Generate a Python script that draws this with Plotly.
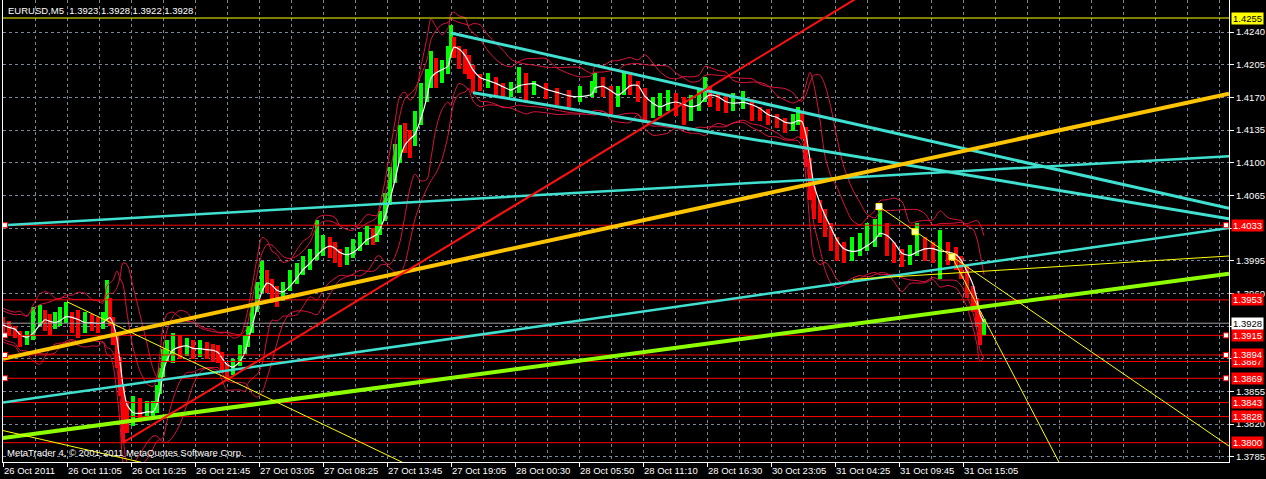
import numpy as np
import plotly.graph_objects as go

# ---------------- data ----------------
bar_index = [
    0, 6, 12, 17, 24, 30, 37, 42, 47, 52,
    57, 63, 69, 75, 82, 89, 95, 100, 104, 107,
    110, 114, 117, 120, 124, 130, 137, 144, 150, 154,
    157, 160, 164, 170, 177, 184, 190, 197, 204, 210,
    215, 219, 224, 230, 237, 242, 245, 249, 254, 259,
    264, 269, 274, 280, 287, 294, 300, 307, 314, 320,
    327, 332, 337, 344, 350, 357, 364, 370, 374, 377,
    382, 387, 392, 397, 402, 407, 412, 418, 424, 428,
    433, 439, 445, 448, 451, 456, 462, 466, 470, 477,
    485, 493, 500, 508, 516, 523, 531, 543, 554, 566,
    577, 589, 592, 600, 608, 615, 621, 627, 635, 642,
    650, 657, 665, 673, 681, 688, 696, 702, 707, 715,
    723, 730, 740, 749, 757, 765, 774, 782, 790, 795,
    799, 803, 807, 811, 817, 822, 828, 834, 841, 849,
    857, 864, 872, 877, 884, 891, 899, 907, 914, 922,
    930, 937, 945, 953, 958, 964, 970, 974, 977, 981,
]

first_open = 1.3930

close = [
    1.3926, 1.3921, 1.3918, 1.3908, 1.3913, 1.3931, 1.3935, 1.3929, 1.3926, 1.3931,
    1.3935, 1.3939, 1.3929, 1.3928, 1.3929, 1.3928, 1.3926, 1.3931, 1.3940, 1.3931,
    1.3913, 1.3889, 1.3860, 1.3835, 1.3827, 1.3835, 1.3832, 1.3832, 1.3835, 1.3856,
    1.3875, 1.3892, 1.3899, 1.3907, 1.3902, 1.3902, 1.3899, 1.3901, 1.3899, 1.3897,
    1.3894, 1.3881, 1.3876, 1.3886, 1.3899, 1.3907, 1.3921, 1.3945, 1.3967, 1.3974,
    1.3972, 1.3960, 1.3958, 1.3967, 1.3978, 1.3985, 1.3993, 1.3999, 1.4010, 1.4012,
    1.4010, 1.4003, 1.3998, 1.4003, 1.4010, 1.4017, 1.4025, 1.4020, 1.4025, 1.4042,
    1.4060, 1.4081, 1.4103, 1.4130, 1.4124, 1.4122, 1.4146, 1.4175, 1.4189, 1.4208,
    1.4192, 1.4199, 1.4219, 1.4231, 1.4221, 1.4213, 1.4210, 1.4199, 1.4189, 1.4186,
    1.4189, 1.4180, 1.4175, 1.4178, 1.4194, 1.4180, 1.4180, 1.4176, 1.4170, 1.4169,
    1.4173, 1.4178, 1.4189, 1.4178, 1.4164, 1.4175, 1.4191, 1.4181, 1.4176, 1.4156,
    1.4159, 1.4164, 1.4167, 1.4164, 1.4156, 1.4160, 1.4170, 1.4178, 1.4170, 1.4164,
    1.4162, 1.4165, 1.4167, 1.4154, 1.4153, 1.4148, 1.4144, 1.4138, 1.4146, 1.4151,
    1.4135, 1.4103, 1.4071, 1.4053, 1.4046, 1.4031, 1.4014, 1.4006, 1.4003, 1.4006,
    1.4010, 1.4017, 1.4025, 1.4031, 1.4010, 1.4003, 1.3996, 1.4003, 1.4014, 1.4006,
    1.4004, 1.4006, 1.4003, 1.3996, 1.3988, 1.3967, 1.3953, 1.3939, 1.3921, 1.3928,
]

high = [
    1.3935, 1.3930, 1.3925, 1.3920, 1.3920, 1.3945, 1.3948, 1.3942, 1.3938, 1.3940,
    1.3945, 1.3951, 1.3940, 1.3942, 1.3940, 1.3938, 1.3935, 1.3940, 1.3974, 1.3955,
    1.3935, 1.3915, 1.3892, 1.3862, 1.3845, 1.3850, 1.3848, 1.3845, 1.3845, 1.3862,
    1.3880, 1.3900, 1.3910, 1.3918, 1.3915, 1.3912, 1.3910, 1.3910, 1.3908, 1.3906,
    1.3905, 1.3897, 1.3885, 1.3890, 1.3905, 1.3915, 1.3925, 1.3950, 1.3972, 1.3995,
    1.3985, 1.3975, 1.3968, 1.3972, 1.3985, 1.3992, 1.4000, 1.4008, 1.4039, 1.4022,
    1.4020, 1.4015, 1.4008, 1.4010, 1.4018, 1.4026, 1.4032, 1.4030, 1.4032, 1.4048,
    1.4068, 1.4095, 1.4120, 1.4140, 1.4142, 1.4135, 1.4155, 1.4185, 1.4200, 1.4220,
    1.4212, 1.4210, 1.4225, 1.4247, 1.4235, 1.4225, 1.4222, 1.4215, 1.4205, 1.4195,
    1.4196, 1.4192, 1.4185, 1.4186, 1.4203, 1.4196, 1.4188, 1.4185, 1.4180, 1.4178,
    1.4182, 1.4188, 1.4196, 1.4192, 1.4182, 1.4182, 1.4198, 1.4195, 1.4188, 1.4180,
    1.4170, 1.4175, 1.4178, 1.4175, 1.4170, 1.4172, 1.4180, 1.4192, 1.4182, 1.4175,
    1.4172, 1.4175, 1.4177, 1.4168, 1.4160, 1.4158, 1.4152, 1.4148, 1.4152, 1.4160,
    1.4155, 1.4138, 1.4105, 1.4075, 1.4060, 1.4050, 1.4035, 1.4020, 1.4015, 1.4020,
    1.4025, 1.4035, 1.4040, 1.4053, 1.4035, 1.4015, 1.4008, 1.4012, 1.4035, 1.4020,
    1.4015, 1.4028, 1.4015, 1.4010, 1.4000, 1.3990, 1.3968, 1.3955, 1.3940, 1.3932,
]

low = [
    1.3918, 1.3915, 1.3912, 1.3903, 1.3905, 1.3910, 1.3925, 1.3920, 1.3915, 1.3922,
    1.3925, 1.3928, 1.3918, 1.3912, 1.3918, 1.3920, 1.3917, 1.3922, 1.3930, 1.3925,
    1.3905, 1.3880, 1.3850, 1.3800, 1.3810, 1.3818, 1.3822, 1.3825, 1.3826, 1.3832,
    1.3852, 1.3870, 1.3888, 1.3885, 1.3890, 1.3893, 1.3890, 1.3892, 1.3890, 1.3888,
    1.3885, 1.3875, 1.3866, 1.3872, 1.3882, 1.3895, 1.3903, 1.3918, 1.3940, 1.3960,
    1.3960, 1.3950, 1.3945, 1.3952, 1.3962, 1.3970, 1.3980, 1.3985, 1.3996, 1.4000,
    1.3998, 1.3993, 1.3988, 1.3990, 1.3998, 1.4005, 1.4012, 1.4012, 1.4015, 1.4022,
    1.4038, 1.4055, 1.4078, 1.4100, 1.4110, 1.4105, 1.4118, 1.4140, 1.4165, 1.4180,
    1.4180, 1.4185, 1.4195, 1.4212, 1.4212, 1.4200, 1.4195, 1.4190, 1.4175, 1.4177,
    1.4180, 1.4172, 1.4168, 1.4170, 1.4175, 1.4165, 1.4172, 1.4168, 1.4162, 1.4160,
    1.4165, 1.4170, 1.4175, 1.4170, 1.4152, 1.4160, 1.4172, 1.4172, 1.4165, 1.4145,
    1.4148, 1.4150, 1.4155, 1.4150, 1.4140, 1.4145, 1.4155, 1.4165, 1.4160, 1.4155,
    1.4153, 1.4155, 1.4158, 1.4145, 1.4145, 1.4140, 1.4137, 1.4132, 1.4134, 1.4140,
    1.4125, 1.4095, 1.4060, 1.4040, 1.4035, 1.4020, 1.4005, 1.3995, 1.3992, 1.3995,
    1.4000, 1.4005, 1.4010, 1.4020, 1.4000, 1.3992, 1.3988, 1.3990, 1.4000, 1.3995,
    1.3992, 1.3975, 1.3990, 1.3985, 1.3975, 1.3955, 1.3940, 1.3925, 1.3905, 1.3915,
]

time_labels = [
    "26 Oct 2011", "26 Oct 11:05", "26 Oct 16:25", "26 Oct 21:45",
    "27 Oct 03:05", "27 Oct 08:25", "27 Oct 13:45", "27 Oct 19:05",
    "28 Oct 00:30", "28 Oct 05:50", "28 Oct 11:10", "28 Oct 16:30",
    "30 Oct 23:05", "31 Oct 04:25", "31 Oct 09:45", "31 Oct 15:05",
]
price_ticks = [1.3785, 1.3820, 1.3855, 1.3890, 1.3925, 1.3960, 1.3995,
               1.4030, 1.4065, 1.4100, 1.4135, 1.4170, 1.4205, 1.4240]
hidden_ticks = [1.3890, 1.3925, 1.4030]   # covered by level boxes in the original

red_levels = [1.4033, 1.3953, 1.3915, 1.3887, 1.3894, 1.3869, 1.3843, 1.3828, 1.3800]
marked_levels = [1.4033, 1.3915, 1.3894, 1.3869]
yellow_level = 1.4255
bid_level = 1.3928
title_text = "EURUSD,M5  1.3923 1.3928 1.3922 1.3928"
copyright_text = "MetaTrader 4, \u00a9 2001-2011 MetaQuotes Software Corp."

# trend-line anchors: (bar, price)
red_ray = [(120, 1.3800), (818, 1.4253)]
gold_line = [(0, 1.3890), (1226, 1.4174)]
green_line = [(0, 1.3805), (1226, 1.3981)]
cyan_flat = [(0, 1.4033), (1226, 1.4107)]
cyan_rising = [(0, 1.3843), (1226, 1.4030)]
cyan_chan_top = [(448, 1.4239), (1226, 1.4051)]
cyan_chan_bottom = [(470, 1.4175), (1226, 1.4040)]
yellow_a = [(64, 1.3951), (374, 1.3792)]
yellow_b = [(0, 1.3813), (134, 1.3780)]
yellow_c = [(876, 1.4053), (1202, 1.3814)]
yellow_d = [(949, 1.3999), (1039, 1.3814)]
yellow_e = [(850, 1.3975), (1226, 1.4000)]
swing_points = [(876, 1.4053), (912, 1.4026), (949, 1.3999)]

# ---------------- derived ----------------
n = len(close)
assert len(bar_index) == n and len(high) == n and len(low) == n
opens = [first_open] + close[:-1]
hi = [max(h, o, c) for h, o, c in zip(high, opens, close)]
lo = [min(l, o, c) for l, o, c in zip(low, opens, close)]
up_bar = [c >= o for o, c in zip(opens, close)]

X_END = 1226
Y_MIN, Y_MAX = 1.37793, 1.42743


def ray(a, b, x_end=1400):
    (x1, p1), (x2, p2) = a, b
    s = (p2 - p1) / (x2 - x1)
    return [x1, x_end], [p1, p1 + s * (x_end - x1)]


def bands(win, k):
    up, dn = [], []
    for i in range(n):
        j = max(0, i - win + 1)
        pool = hi[j:i + 1] + lo[j:i + 1] + close[j:i + 1]
        m = float(np.mean(close[j:i + 1]))
        sd = float(np.std(pool))
        up.append(m + k * sd)
        dn.append(m - k * sd)
    return up, dn


ma = [float(np.mean(close[max(0, i - 2):i + 1])) for i in range(n)]

fig = go.Figure()

# price bars (high-low ranges), green = up bar, red = down bar
for flag, col in [(True, "#00FF00"), (False, "#FF0000")]:
    idx = [i for i in range(n) if up_bar[i] == flag]
    fig.add_trace(go.Bar(
        x=[bar_index[i] for i in idx], base=[lo[i] for i in idx],
        y=[hi[i] - lo[i] for i in idx], width=3.5,
        marker=dict(color=col, line=dict(width=0)), hoverinfo="skip", showlegend=False))

for win, k in [(4, 2.6), (7, 2.2)]:
    up, dn = bands(win, k)
    for series in (up, dn):
        fig.add_trace(go.Scatter(x=bar_index, y=series, mode="lines",
                                 line=dict(color="#DC143C", width=1, shape="spline", smoothing=0.8),
                                 hoverinfo="skip", showlegend=False))

fig.add_trace(go.Scatter(x=bar_index, y=ma, mode="lines",
                         line=dict(color="white", width=1.2, shape="spline", smoothing=0.6),
                         hoverinfo="skip", showlegend=False))


def add_line(xs, ys, color, width):
    fig.add_trace(go.Scatter(x=xs, y=ys, mode="lines", line=dict(color=color, width=width),
                             hoverinfo="skip", showlegend=False))


# horizontal levels
add_line([0, X_END], [yellow_level] * 2, "#FFFF00", 1)
add_line([0, X_END], [bid_level] * 2, "#A0A0A0", 1)
for lv in red_levels:
    add_line([0, X_END], [lv] * 2, "#FF0000", 1)

# trend lines
for seg, col, w in [(cyan_flat, "#40E0D0", 2.5), (cyan_rising, "#40E0D0", 2.5),
                    (cyan_chan_top, "#40E0D0", 3), (cyan_chan_bottom, "#40E0D0", 3),
                    (gold_line, "#FFC400", 4), (green_line, "#8CFF00", 4)]:
    add_line([seg[0][0], seg[1][0]], [seg[0][1], seg[1][1]], col, w)

xs, ys = ray(*red_ray)
add_line(xs, ys, "#FF1010", 2)
for seg in (yellow_a, yellow_b, yellow_c, yellow_d):
    xs, ys = ray(*seg)
    add_line(xs, ys, "#FFFF00", 1)
add_line([yellow_e[0][0], yellow_e[1][0]], [yellow_e[0][1], yellow_e[1][1]], "#FFFF00", 1)

# markers
fig.add_trace(go.Scatter(
    x=[2] * len(marked_levels) + [1223] * len(marked_levels),
    y=marked_levels + marked_levels, mode="markers",
    marker=dict(symbol="square", size=5, color="white", line=dict(color="#FF0000", width=1)),
    hoverinfo="skip", showlegend=False, cliponaxis=False))
fig.add_trace(go.Scatter(
    x=[p[0] for p in swing_points], y=[p[1] for p in swing_points], mode="markers",
    marker=dict(symbol="square", size=6, color=["white", "#FFFFA0", "#FFFFA0"],
                line=dict(color="#FFFF00", width=1)),
    hoverinfo="skip", showlegend=False))

FONT = "Liberation Sans"
FS = 9.5
grid_color = "#778899"

fig.update_layout(
    width=1266, height=479,
    margin=dict(l=3, r=37, t=0, b=17),
    paper_bgcolor="black", plot_bgcolor="black",
    showlegend=False, barmode="overlay", bargap=0,
    font=dict(family=FONT, size=FS, color="white"),
    xaxis=dict(
        range=[0, X_END],
        tickmode="array", tickvals=[64 * i for i in range(len(time_labels))], ticktext=time_labels,
        ticks="outside", ticklen=4, tickcolor="white", ticklabelposition="outside right",
        tickfont=dict(family=FONT, size=FS, color="white"),
        showline=True, linecolor="white", linewidth=1,
        showgrid=False, zeroline=False,
        minor=dict(tickmode="array", tickvals=[32 * i for i in range(1, 39)], showgrid=True,
                   gridcolor=grid_color, griddash="3px,3px", gridwidth=1, ticks=""),
    ),
    yaxis=dict(
        side="right", range=[Y_MIN, Y_MAX],
        tickmode="array", tickvals=price_ticks,
        ticktext=["" if v in hidden_ticks else f"{v:.4f}" for v in price_ticks],
        ticks="outside", ticklen=4, tickcolor="white",
        tickfont=dict(family=FONT, size=FS, color="white"),
        showline=True, mirror=True, linecolor="white", linewidth=1,
        showgrid=True, gridcolor=grid_color, griddash="3px,3px", gridwidth=1, zeroline=False,
    ),
)

ann = []
ann.append(dict(text=title_text, xref="paper", yref="paper", x=0, y=1, xanchor="left", yanchor="top",
                xshift=3, yshift=-3, showarrow=False, font=dict(family=FONT, size=FS, color="white")))
ann.append(dict(text=copyright_text, xref="paper", yref="paper", x=0, y=0, xanchor="left", yanchor="bottom",
                xshift=2, yshift=2, showarrow=False, font=dict(family=FONT, size=FS, color="white")))


def price_box(v, bg, fg):
    return dict(text=f"{v:.4f}", xref="paper", yref="y", x=1, y=v, xanchor="left", yanchor="middle",
                xshift=2, showarrow=False, bgcolor=bg, width=31, height=11, borderpad=0,
                font=dict(family=FONT, size=FS, color=fg))


ann.append(price_box(yellow_level, "#FFFF00", "black"))
for lv in red_levels:
    ann.append(price_box(lv, "#FF0000", "white"))
ann.append(price_box(bid_level, "white", "black"))
fig.update_layout(annotations=ann)

fig.write_html("out.html", config={"displayModeBar": False},
               post_script="document.body.style.margin='0px';document.body.style.padding='0px';")
